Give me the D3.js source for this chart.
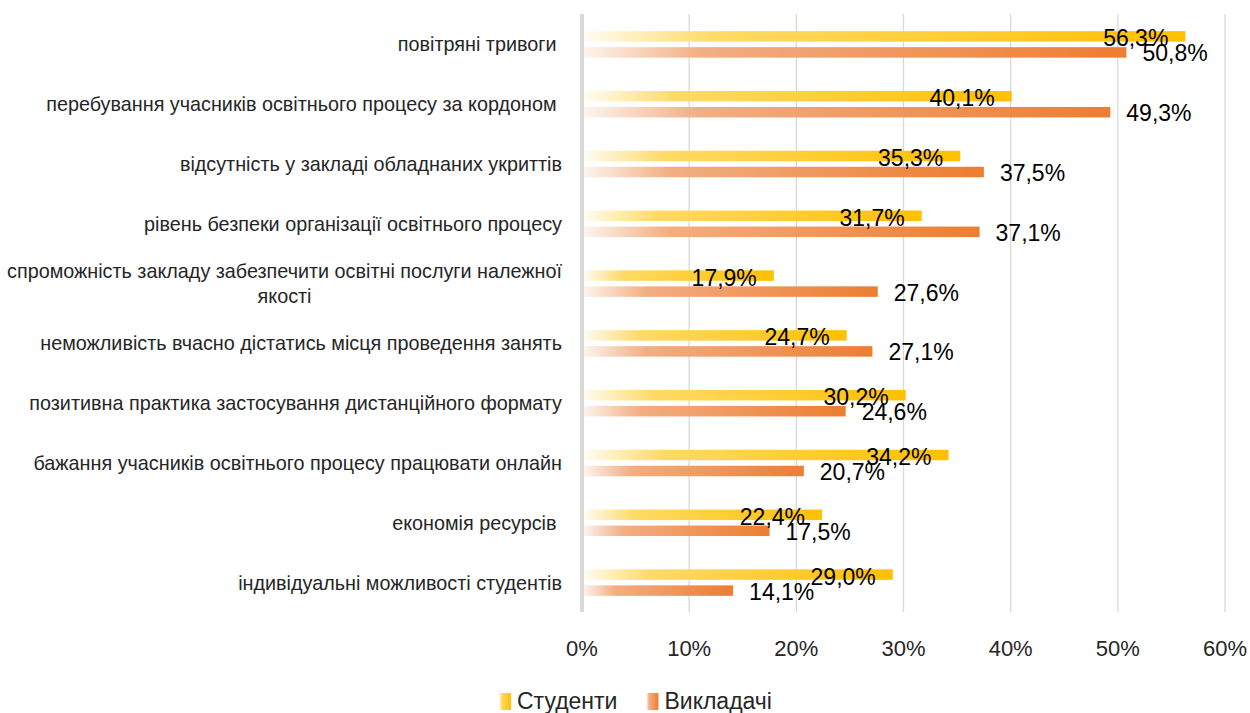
<!DOCTYPE html>
<html>
<head>
<meta charset="utf-8">
<script src="https://cdnjs.cloudflare.com/ajax/libs/d3/7.8.5/d3.min.js"></script>
<style>
  body { margin: 0; background: #fff; }
  svg { display: block; font-family: "Liberation Sans", Arial, sans-serif; }
  .cat { font-size: 19.8px; fill: #262626; white-space: pre; }
  .tick-label { font-size: 22px; fill: #262626; }
  .val { font-size: 23px; fill: #000; }
  .legend { font-size: 23px; fill: #262626; }
</style>
</head>
<body>
<script>
var w = 1250;
var h = 713;

// data
var categories = [
  "повітряні тривоги ",
  "перебування учасників освітнього процесу за кордоном ",
  "відсутність у закладі обладнаних укриттів",
  "рівень безпеки організації освітнього процесу",
  "спроможність закладу забезпечити освітні послуги належної\nякості",
  "неможливість вчасно дістатись місця проведення занять",
  "позитивна практика застосування дистанційного формату",
  "бажання учасників освітнього процесу працювати онлайн",
  "економія ресурсів ",
  "індивідуальні можливості студентів"
];
var students = [56.3, 40.1, 35.3, 31.7, 17.9, 24.7, 30.2, 34.2, 22.4, 29.0];
var teachers = [50.8, 49.3, 37.5, 37.1, 27.6, 27.1, 24.6, 20.7, 17.5, 14.1];
var seriesNames = ["Студенти", "Викладачі"];
var xTicks = [0, 10, 20, 30, 40, 50, 60];

var plot = {left: 582, right: 1225, top: 14, bottom: 612};

var svg = d3.select("body").append("svg")
    .attr("width", w)
    .attr("height", h);

// gradients (white -> colour along each bar)
var defs = svg.append("defs");
var gradStops = [
  [["0", "#fffdf6"], ["0.22", "#ffda66"], ["1", "#ffc000"]],
  [["0", "#fdf6f1"], ["0.22", "#f2ae82"], ["1", "#ed7d31"]]
];
gradStops.forEach(function(stops, i) {
  var g = defs.append("linearGradient")
      .attr("id", "grad" + i)
      .attr("x1", "0").attr("x2", "1").attr("y1", "0").attr("y2", "0");
  stops.forEach(function(s) {
    g.append("stop").attr("offset", s[0]).attr("stop-color", s[1]);
  });
});

// scales
var x = d3.scaleLinear().domain([0, 60]).range([plot.left, plot.right]);
var y = d3.scaleBand().domain(categories).range([plot.top, plot.bottom]);
var ySub = d3.scaleBand().domain([0, 1]).range([0, y.bandwidth()])
    .paddingInner(0.344).paddingOuter(1.04);

// grid lines
svg.append("g").selectAll("line")
    .data(xTicks.slice(1))
    .enter().append("line")
    .attr("x1", function(d) { return x(d); })
    .attr("x2", function(d) { return x(d); })
    .attr("y1", plot.top)
    .attr("y2", plot.bottom)
    .attr("stroke", "#d9d9d9")
    .attr("stroke-width", 1.3);

// bars
var series = [students, teachers];
var groups = svg.append("g").selectAll(".cat-group")
    .data(categories)
    .enter().append("g")
    .attr("class", "cat-group")
    .attr("transform", function(d) { return "translate(0," + (y(d) + 0.5) + ")"; });

groups.each(function(c, ci) {
  var g = d3.select(this);
  series.forEach(function(vals, si) {
    g.append("rect")
      .attr("x", x(0))
      .attr("y", ySub(si))
      .attr("width", x(vals[ci]) - x(0))
      .attr("height", ySub.bandwidth())
      .attr("fill", "url(#grad" + si + ")");
  });
});

// zero axis line
svg.append("line")
    .attr("x1", x(0)).attr("x2", x(0))
    .attr("y1", plot.top).attr("y2", plot.bottom)
    .attr("stroke", "#d9d9d9")
    .attr("stroke-width", 4);

// value labels
var fmt = function(v) { return v.toFixed(1).replace(".", ",") + "%"; };
groups.each(function(c, ci) {
  var g = d3.select(this);
  var mid0 = ySub(0) + ySub.bandwidth() / 2;
  var mid1 = ySub(1) + ySub.bandwidth() / 2;
  g.append("text")
    .attr("class", "val")
    .attr("x", x(students[ci]) - 17)
    .attr("y", mid0 + 2)
    .attr("dy", "0.35em")
    .attr("text-anchor", "end")
    .text(fmt(students[ci]));
  g.append("text")
    .attr("class", "val")
    .attr("x", x(teachers[ci]) + 16)
    .attr("y", mid1 + 1)
    .attr("dy", "0.35em")
    .attr("text-anchor", "start")
    .text(fmt(teachers[ci]));
});

// category labels
var labelRight = 562;
groups.each(function(c) {
  var g = d3.select(this);
  var lines = c.split("\n");
  var lh = 25;
  var cy = y.bandwidth() / 2;
  var t = g.append("text")
      .attr("class", "cat")
      .attr("x", labelRight)
      .attr("y", cy - (lines.length - 1) * lh / 2)
      .attr("dy", "0.35em")
      .attr("text-anchor", "end")
      .text(lines[0]);
  if (lines.length > 1) {
    var w1 = t.node().getComputedTextLength();
    var cx = labelRight - w1 / 2;
    t.attr("text-anchor", "middle").attr("x", cx);
    lines.slice(1).forEach(function(l, i) {
      g.append("text")
        .attr("class", "cat")
        .attr("x", cx)
        .attr("y", cy - (lines.length - 1) * lh / 2 + (i + 1) * lh)
        .attr("dy", "0.35em")
        .attr("text-anchor", "middle")
        .text(l);
    });
  }
});

// x axis tick labels
svg.append("g").selectAll("text")
    .data(xTicks)
    .enter().append("text")
    .attr("class", "tick-label")
    .attr("x", function(d) { return x(d); })
    .attr("y", 648)
    .attr("dy", "0.35em")
    .attr("text-anchor", "middle")
    .text(function(d) { return d + "%"; });

// legend
var legend = svg.append("g").attr("transform", "translate(0,701)");
var lx = 499;
seriesNames.forEach(function(name, i) {
  legend.append("rect")
    .attr("x", lx)
    .attr("y", -8)
    .attr("width", 12)
    .attr("height", 17)
    .attr("fill", "url(#grad" + i + ")");
  var t = legend.append("text")
    .attr("class", "legend")
    .attr("x", lx + 18)
    .attr("y", 0)
    .attr("dy", "0.35em")
    .text(name);
  lx = lx + 18 + t.node().getComputedTextLength() + 29;
});
</script>
</body>
</html>
